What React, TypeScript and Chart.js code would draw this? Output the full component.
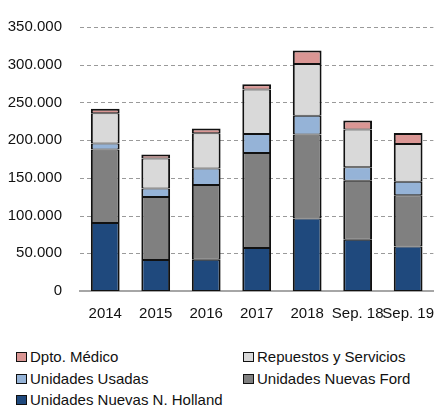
import React, { useEffect, useRef } from "react";
import { Chart, registerables } from "chart.js";

Chart.register(...registerables);

const categories = ["2014", "2015", "2016", "2017", "2018", "Sep. 18", "Sep. 19"];
const nuevasNH = [90000, 41000, 41500, 57000, 96000, 68000, 59000];
const nuevasFord = [97500, 83500, 99000, 126000, 111500, 78000, 68000];
const usadas = [8000, 11500, 22000, 25000, 25000, 18000, 18000];
const repuestos = [40000, 39500, 46500, 59000, 68500, 50000, 50000];
const medico = [6000, 5500, 6500, 7000, 18000, 12000, 14500];
const yTicks = [50000, 100000, 150000, 200000, 250000, 300000, 350000];

const seriesNames = [
  "Unidades Nuevas N. Holland",
  "Unidades Nuevas Ford",
  "Unidades Usadas",
  "Repuestos y Servicios",
  "Dpto. Médico",
];
const seriesColors = ["#1F497D", "#808080", "#95B3D7", "#D9D9D9", "#DA9694"];
const seriesData = [nuevasNH, nuevasFord, usadas, repuestos, medico];

const legendOrder = [4, 3, 2, 1, 0];

const FONT = '"Liberation Sans", Arial, sans-serif';

function fmt(v: number): string {
  return String(Math.round(v)).replace(/\B(?=(\d{3})+(?!\d))/g, ".");
}

const dashedGrid = {
  id: "dashedGrid",
  beforeDatasetsDraw(chart: any) {
    const { ctx, chartArea, scales } = chart;
    const y = scales.y;
    ctx.save();
    ctx.strokeStyle = "#9A9A9A";
    ctx.lineWidth = 1;
    ctx.setLineDash([4, 3]);
    yTicks.forEach((t) => {
      const py = Math.round(y.getPixelForValue(t)) + 0.5;
      ctx.beginPath();
      ctx.moveTo(chartArea.left, py);
      ctx.lineTo(chartArea.right, py);
      ctx.stroke();
    });
    ctx.restore();
  },
};

export default function App() {
  const ref = useRef<HTMLCanvasElement | null>(null);

  useEffect(() => {
    if (!ref.current) return;
    const n = seriesData.length;
    const chart = new Chart(ref.current, {
      type: "bar",
      data: {
        labels: categories,
        datasets: seriesData.map((d, i) => ({
          label: seriesNames[i],
          data: d,
          backgroundColor: seriesColors[i],
          borderColor: "#111111",
          borderWidth: { left: 2, right: 2, top: i === n - 1 ? 2 : 1, bottom: 1 },
          borderSkipped: false,
          categoryPercentage: 1,
          barPercentage: 0.57,
        })),
      },
      options: {
        animation: false,
        responsive: false,
        maintainAspectRatio: false,
        layout: { padding: { top: 17, right: 0, left: 0, bottom: 0 } },
        plugins: {
          legend: { display: false },
          tooltip: { enabled: false },
        },
        scales: {
          x: {
            stacked: true,
            grid: { display: false, drawTicks: false },
            border: { display: true, color: "#A6A6A6", width: 2 },
            ticks: {
              autoSkip: false,
              maxRotation: 0,
              minRotation: 0,
              padding: 14,
              color: "#111111",
              font: { family: FONT, size: 15 },
            },
            afterFit: (s: any) => {
              s.height = 44;
            },
          },
          y: {
            stacked: true,
            min: 0,
            max: 350000,
            grid: { display: false, drawTicks: false },
            border: { display: false },
            ticks: {
              stepSize: 50000,
              padding: 18,
              color: "#111111",
              font: { family: FONT, size: 15 },
              callback: (v: any) => fmt(Number(v)),
            },
            afterFit: (s: any) => {
              s.width = 80;
            },
          },
        },
      },
      plugins: [dashedGrid],
    });
    return () => chart.destroy();
  }, []);

  const legendPos = [
    { left: 16, top: 351 },
    { left: 243, top: 351 },
    { left: 16, top: 372.5 },
    { left: 243, top: 372.5 },
    { left: 16, top: 394 },
  ];

  return (
    <div
      style={{
        position: "fixed",
        left: 0,
        top: 0,
        width: 448,
        height: 410,
        background: "#ffffff",
        fontFamily: FONT,
        overflow: "hidden",
      }}
    >
      <canvas ref={ref} width={448} height={335} style={{ display: "block", width: 448, height: 335 }} />
      {legendOrder.map((idx, k) => (
        <div
          key={idx}
          style={{
            position: "absolute",
            left: legendPos[k].left,
            top: legendPos[k].top,
            display: "flex",
            alignItems: "center",
            height: 12,
            whiteSpace: "nowrap",
          }}
        >
          <span
            style={{
              display: "inline-block",
              width: 9,
              height: 8,
              background: seriesColors[idx],
              border: "1.5px solid #111111",
              marginRight: 3,
            }}
          />
          <span style={{ fontSize: 15, color: "#111111", lineHeight: "12px" }}>{seriesNames[idx]}</span>
        </div>
      ))}
    </div>
  );
}
